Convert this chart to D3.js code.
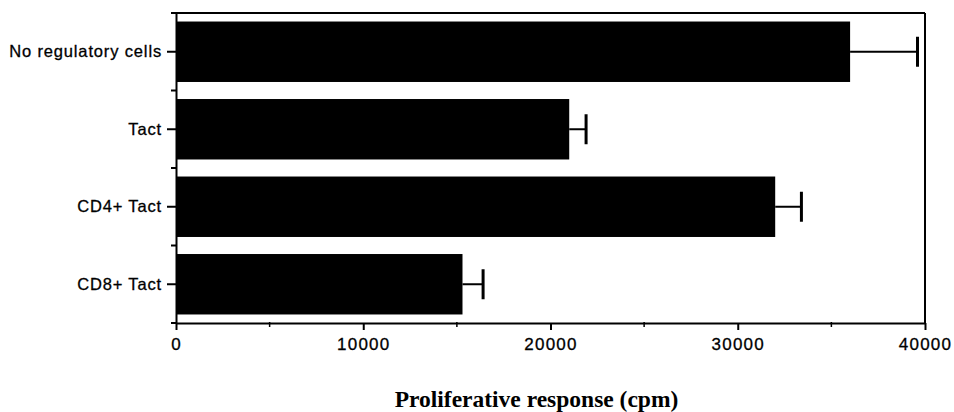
<!DOCTYPE html>
<html>
<head>
<meta charset="utf-8">
<script src="https://cdn.jsdelivr.net/npm/d3@7"></script>
<style>
body { margin:0; background:#fff; }
.tick text { font-family: "Liberation Sans", Arial, sans-serif; }
</style>
</head>
<body>
<div id="chart"></div>
<script>
var groups = ["No regulatory cells", "Tact", "CD4+ Tact", "CD8+ Tact"];
var cpm = [36000, 21000, 32000, 15300];
var cpmErr = [3600, 900, 1400, 1100];
var xTicks = [0, 10000, 20000, 30000, 40000];
var xMinor = [5000, 15000, 25000, 35000];

var svgWidth = 954;
var svgHeight = 412;
var margin = {top: 13, right: 29, bottom: 89, left: 176};
var width = svgWidth - margin.left - margin.right;
var height = svgHeight - margin.top - margin.bottom;

var svg = d3.select("#chart")
  .append("svg")
  .attr("width", svgWidth)
  .attr("height", svgHeight);

var chartGroup = svg.append("g")
  .attr("transform", `translate(${margin.left}, ${margin.top})`);

var xScale = d3.scaleLinear()
  .domain([0, 40000])
  .range([0, width]);

var yScale = d3.scaleBand()
  .domain(groups)
  .range([0, height])
  .paddingInner(0.22)
  .paddingOuter(0.11);

// bars
chartGroup.selectAll("rect.bar")
  .data(groups)
  .enter()
  .append("rect")
  .attr("class", "bar")
  .attr("x", 0)
  .attr("y", d => yScale(d))
  .attr("width", (d, i) => xScale(cpm[i]))
  .attr("height", yScale.bandwidth())
  .attr("fill", "#000");

// error bars
var errGroup = chartGroup.selectAll("g.err")
  .data(groups)
  .enter()
  .append("g")
  .attr("class", "err");

errGroup.append("line")
  .attr("x1", (d, i) => xScale(cpm[i]))
  .attr("x2", (d, i) => xScale(cpm[i] + cpmErr[i]))
  .attr("y1", d => yScale(d) + yScale.bandwidth() / 2)
  .attr("y2", d => yScale(d) + yScale.bandwidth() / 2)
  .attr("stroke", "#000")
  .attr("stroke-width", 2);

errGroup.append("line")
  .attr("x1", (d, i) => xScale(cpm[i] + cpmErr[i]))
  .attr("x2", (d, i) => xScale(cpm[i] + cpmErr[i]))
  .attr("y1", d => yScale(d) + yScale.bandwidth() / 2 - 15)
  .attr("y2", d => yScale(d) + yScale.bandwidth() / 2 + 15)
  .attr("stroke", "#000")
  .attr("stroke-width", 3);

// frame top and right
chartGroup.append("line")
  .attr("x1", 0).attr("x2", width)
  .attr("y1", 0).attr("y2", 0)
  .attr("stroke", "#000").attr("stroke-width", 2);
chartGroup.append("line")
  .attr("x1", width).attr("x2", width)
  .attr("y1", 0).attr("y2", height)
  .attr("stroke", "#000").attr("stroke-width", 2);

// bottom axis
var bottomAxis = d3.axisBottom(xScale)
  .tickValues(xTicks)
  .tickFormat(d3.format("d"))
  .tickSize(7)
  .tickPadding(8)
  .tickSizeOuter(0);

var xAxisG = chartGroup.append("g")
  .attr("transform", `translate(0, ${height})`)
  .call(bottomAxis);
xAxisG.select(".domain").attr("stroke-width", 2);
xAxisG.selectAll(".tick line").attr("stroke-width", 2);
xAxisG.selectAll(".tick text")
  .attr("font-size", 17)
  .attr("letter-spacing", "1.2px")
  .attr("fill", "#000")
  .attr("stroke", "#000")
  .attr("stroke-width", 0.3);

chartGroup.append("g")
  .attr("transform", `translate(0, ${height})`)
  .selectAll("line")
  .data(xMinor)
  .enter()
  .append("line")
  .attr("x1", d => xScale(d)).attr("x2", d => xScale(d))
  .attr("y1", -1).attr("y2", 4)
  .attr("stroke", "#000").attr("stroke-width", 1.5);

// left axis
var leftAxis = d3.axisLeft(yScale)
  .tickSize(9)
  .tickPadding(5)
  .tickSizeOuter(0);

var yAxisG = chartGroup.append("g").call(leftAxis);
yAxisG.select(".domain").attr("stroke-width", 2);
yAxisG.selectAll(".tick line").attr("stroke-width", 2);
yAxisG.selectAll(".tick text")
  .attr("font-size", 16.5)
  .attr("letter-spacing", "0.85px")
  .attr("fill", "#000")
  .attr("stroke", "#000")
  .attr("stroke-width", 0.3);

// short ticks on the group boundaries
chartGroup.append("g")
  .selectAll("line")
  .data(d3.range(groups.length + 1))
  .enter()
  .append("line")
  .attr("x1", -5).attr("x2", 0)
  .attr("y1", i => i * height / groups.length)
  .attr("y2", i => i * height / groups.length)
  .attr("stroke", "#000").attr("stroke-width", 2);

// axis title
chartGroup.append("text")
  .attr("x", width / 2 - 14)
  .attr("y", height + 84)
  .attr("text-anchor", "middle")
  .attr("font-family", "Liberation Serif, Times New Roman, serif")
  .attr("font-weight", "bold")
  .attr("font-size", 23.5)
  .text("Proliferative response (cpm)");
</script>
</body>
</html>
